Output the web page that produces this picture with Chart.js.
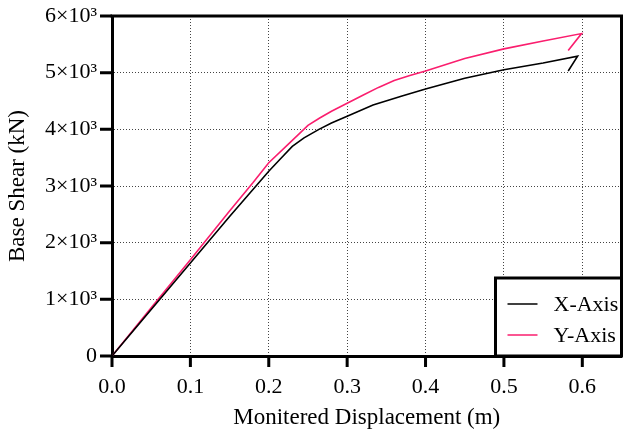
<!DOCTYPE html>
<html>
<head>
<meta charset="utf-8">
<script src="https://cdn.jsdelivr.net/npm/chart.js@4/dist/chart.umd.min.js"></script>
<style>
  html, body { margin: 0; padding: 0; background: #fff; }
  #wrap { width: 623px; height: 432px; }
</style>
</head>
<body>
<div id="wrap"><canvas id="c" width="623" height="432"></canvas></div>
<script>
// pushover curves: displacement (m) vs base shear (kN)
const xAxisDisp  = [0, 0.05, 0.10, 0.15, 0.20, 0.215, 0.23, 0.245, 0.264, 0.28, 0.30, 0.333, 0.37, 0.40, 0.45, 0.50, 0.55, 0.594, 0.582];
const xAxisShear = [0, 820, 1640, 2460, 3260, 3480, 3700, 3850, 4000, 4110, 4230, 4430, 4590, 4710, 4900, 5050, 5170, 5290, 5030];

const yAxisDisp  = [0, 0.05, 0.10, 0.15, 0.18, 0.20, 0.225, 0.25, 0.265, 0.28, 0.30, 0.32, 0.34, 0.36, 0.38, 0.40, 0.45, 0.50, 0.55, 0.599, 0.582];
const yAxisShear = [0, 850, 1700, 2560, 3060, 3410, 3740, 4070, 4200, 4320, 4460, 4600, 4740, 4860, 4950, 5030, 5250, 5420, 5560, 5690, 5390];

const seriesNames  = ['X-Axis', 'Y-Axis'];
const seriesColors = ['#000000', '#fa1e6e'];

const xTicks = [0, 0.1, 0.2, 0.3, 0.4, 0.5, 0.6];
const yTicks = [0, 1000, 2000, 3000, 4000, 5000, 6000];
const yTickLabels = ['0', '1×10³', '2×10³', '3×10³', '4×10³', '5×10³', '6×10³'];

const toPoints = (xs, ys) => xs.map((v, i) => ({ x: v, y: ys[i] }));

const SERIF = '"Liberation Serif", "DejaVu Serif", serif';
Chart.defaults.font.family = SERIF;
Chart.defaults.font.size = 22;
Chart.defaults.color = '#000';

// closes the box, draws outward tick marks and the legend inside the plot
const framePlugin = {
  id: 'frame',
  afterDraw(chart) {
    const { ctx, chartArea: a, scales: { x, y } } = chart;
    ctx.save();
    ctx.strokeStyle = '#000';
    ctx.lineWidth = 3;
    ctx.beginPath();
    ctx.moveTo(a.left - 1.5, a.top);
    ctx.lineTo(a.right, a.top);
    ctx.lineTo(a.right, a.bottom);
    ctx.stroke();

    ctx.beginPath();
    x.ticks.forEach(t => {
      const px = x.getPixelForValue(t.value);
      ctx.moveTo(px, a.bottom);
      ctx.lineTo(px, a.bottom + 11);
    });
    y.ticks.forEach(t => {
      const py = y.getPixelForValue(t.value);
      ctx.moveTo(a.left - 12, py);
      ctx.lineTo(a.left, py);
    });
    ctx.stroke();

    // legend box
    const w = 126, h = 78;
    const lx = a.right - w, ly = a.bottom - h;
    ctx.fillStyle = '#fff';
    ctx.fillRect(lx, ly, w, h);
    ctx.strokeRect(lx, ly, w, h);
    ctx.font = '22px ' + SERIF;
    ctx.textBaseline = 'middle';
    ctx.textAlign = 'left';
    chart.data.datasets.forEach((ds, i) => {
      const cy = ly + 26 + i * 31;
      ctx.strokeStyle = ds.borderColor;
      ctx.lineWidth = 1.5;
      ctx.beginPath();
      ctx.moveTo(lx + 12, cy);
      ctx.lineTo(lx + 42, cy);
      ctx.stroke();
      ctx.fillStyle = '#000';
      ctx.fillText(ds.label, lx + 58, cy + 1);
    });
    ctx.restore();
  }
};

const dotted = { color: '#000', width: 3, dash: [1, 2] };
const grid = { color: '#444', lineWidth: 1, drawTicks: false };

new Chart(document.getElementById('c'), {
  type: 'scatter',
  data: {
    datasets: [
      { label: seriesNames[0], data: toPoints(xAxisDisp, xAxisShear) },
      { label: seriesNames[1], data: toPoints(yAxisDisp, yAxisShear) },
    ].map((ds, i) => Object.assign(ds, {
      showLine: true,
      borderColor: seriesColors[i],
      backgroundColor: seriesColors[i],
      borderWidth: 1.6,
      pointRadius: 0,
      tension: 0,
    })),
  },
  options: {
    responsive: false,
    animation: false,
    layout: { padding: { top: 16, right: 1.5, left: 0, bottom: 0 } },
    plugins: { legend: { display: false }, tooltip: { enabled: false } },
    scales: {
      x: {
        type: 'linear', min: 0, max: 0.65,
        afterBuildTicks: s => { s.ticks = xTicks.map(v => ({ value: v })); },
        afterFit: s => { s.height = 76; s.paddingLeft = 0; s.paddingRight = 0; },
        ticks: { padding: 18, callback: v => v.toFixed(1) },
        grid,
        border: dotted,
        title: { display: true, text: 'Monitered Displacement (m)', font: { size: 23 }, padding: { top: 0, bottom: 0 } },
      },
      y: {
        type: 'linear', min: 0, max: 6000,
        afterBuildTicks: s => { s.ticks = yTicks.map(v => ({ value: v })); },
        afterFit: s => { s.width = 112; s.paddingTop = 0; s.paddingBottom = 0; },
        ticks: { padding: 15, callback: v => yTickLabels[yTicks.indexOf(v)] },
        grid,
        border: dotted,
        title: { display: true, text: 'Base Shear (kN)', font: { size: 23 }, padding: { top: 4, bottom: 0 } },
      },
    },
  },
  plugins: [framePlugin],
});
</script>
</body>
</html>
